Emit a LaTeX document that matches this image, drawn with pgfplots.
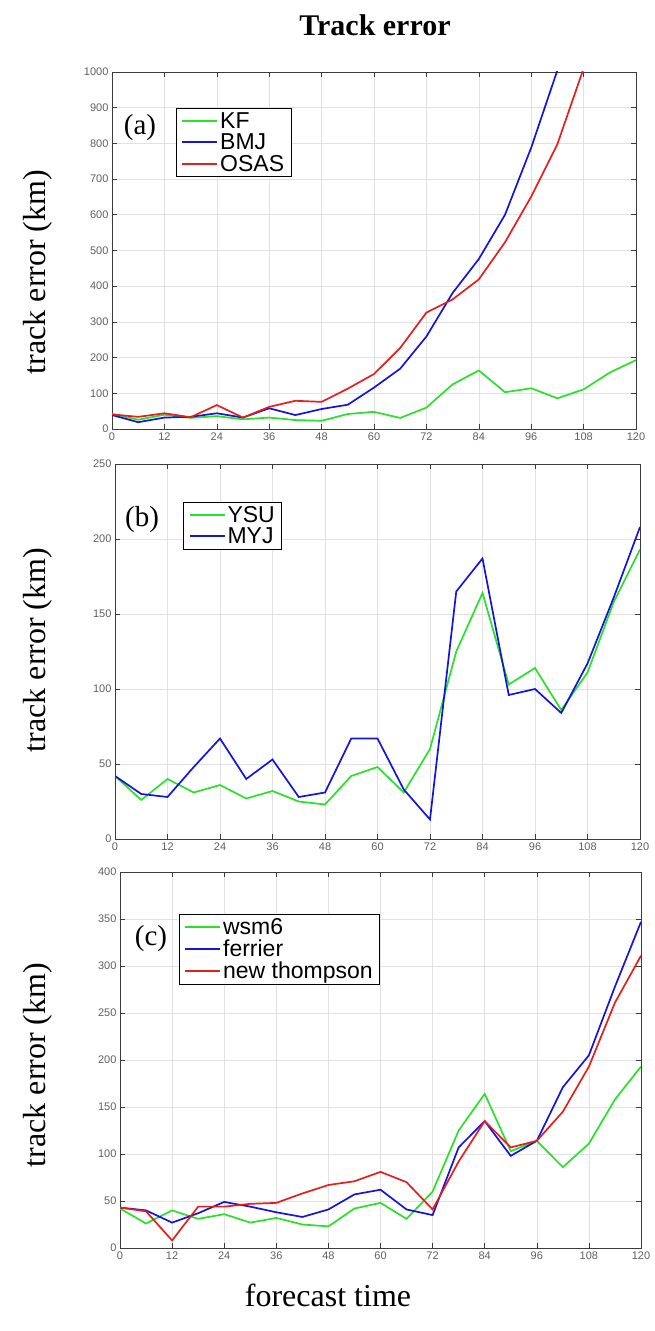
\documentclass[border=0pt]{standalone}
\usepackage{pgfplots}
\pgfplotsset{compat=1.18}
\usepackage{fontspec}
\setmainfont{Liberation Serif}
\newfontfamily\arial{Liberation Sans}
\definecolor{mgreen}{RGB}{40,225,40}
\definecolor{mblue}{RGB}{20,20,220}
\definecolor{mred}{RGB}{230,30,30}
\definecolor{axgray}{RGB}{60,60,60}
\definecolor{tickgray}{RGB}{95,95,95}
\definecolor{gridgray}{RGB}{225,225,225}
\pgfplotsset{
 legend image code/.code={\draw[#1] (0pt,0pt) -- (35pt,0pt);},
 mstyle/.style={
  scale only axis, xmin=0, xmax=120, xtick={0,12,...,120}, ymin=0,
  grid=major, major grid style={gridgray, line width=0.6pt},
  axis line style={axgray, line width=0.8pt},
  tick style={axgray, line width=0.6pt}, major tick length=5pt,
  ticklabel style={font=\arial\fontsize{11}{13}\selectfont, text=tickgray},
  /pgf/number format/assume math mode=true, /pgf/number format/1000 sep={},
  legend cell align=left,
  legend style={draw=black, line width=0.7pt, fill=white, font=\arial\fontsize{23}{24}\selectfont, inner xsep=5pt, inner ysep=2pt, row sep=0pt, anchor=north west},
  legend image post style={line width=1.9pt},
  every axis plot/.append style={line width=1.7pt},
 }
}
\begin{document}
\begin{tikzpicture}
\useasboundingbox (0pt,0pt) rectangle (654pt,1331pt);
% (a)
\begin{axis}[mstyle, at={(112pt,902pt)}, anchor=south west, width=524pt, height=357pt,
  ymax=1000, ytick={0,100,...,1000},
  legend style={at={(0.122,0.899)}}]
\addplot[mgreen] coordinates {(0,42)(6,26)(12,40)(18,31)(24,36)(30,27)(36,32)(42,25)(48,23)(54,42)(60,48)(66,31)(72,60)(78,125)(84,164)(90,103)(96,114)(102,86)(108,111)(114,158)(120,193)};
\addlegendentry{KF}
\addplot[mblue] coordinates {(0,39)(6,19)(12,32)(18,34)(24,44)(30,32)(36,58)(42,39)(48,56)(54,68)(60,116)(66,169)(72,259)(78,381)(84,476)(90,600)(96,788)(102,1005)(108,1250)};
\addlegendentry{BMJ}
\addplot[mred] coordinates {(0,41)(6,34)(12,44)(18,33)(24,67)(30,32)(36,62)(42,79)(48,76)(54,113)(60,154)(66,227)(72,326)(78,363)(84,419)(90,523)(96,651)(102,798)(108,1010)(114,1250)};
\addlegendentry{OSAS}
\end{axis}
% (b)
\begin{axis}[mstyle, at={(115pt,492pt)}, anchor=south west, width=525pt, height=375pt,
  ymax=250, ytick={0,50,...,250},
  legend style={at={(0.130,0.899)}}]
\addplot[mgreen] coordinates {(0,42)(6,26)(12,40)(18,31)(24,36)(30,27)(36,32)(42,25)(48,23)(54,42)(60,48)(66,31)(72,60)(78,125)(84,164)(90,103)(96,114)(102,86)(108,111)(114,158)(120,193)};
\addlegendentry{YSU}
\addplot[mblue] coordinates {(0,42)(6,30)(12,28)(18,48)(24,67)(30,40)(36,53)(42,28)(48,31)(54,67)(60,67)(66,33)(72,13)(78,165)(84,187)(90,96)(96,100)(102,84)(108,117)(114,161)(120,208)};
\addlegendentry{MYJ}
\end{axis}
% (c)
\begin{axis}[mstyle, at={(120pt,83pt)}, anchor=south west, width=521pt, height=376pt,
  ymax=400, ytick={0,50,...,400},
  legend style={at={(0.113,0.888)}}]
\addplot[mgreen] coordinates {(0,42)(6,26)(12,40)(18,31)(24,36)(30,27)(36,32)(42,25)(48,23)(54,42)(60,48)(66,31)(72,60)(78,125)(84,164)(90,103)(96,114)(102,86)(108,111)(114,158)(120,193)};
\addlegendentry{wsm6}
\addplot[mblue] coordinates {(0,43)(6,40)(12,27)(18,37)(24,49)(30,44)(36,38)(42,33)(48,41)(54,57)(60,62)(66,41)(72,35)(78,107)(84,135)(90,98)(96,114)(102,171)(108,205)(114,278)(120,347)};
\addlegendentry{ferrier}
\addplot[mred] coordinates {(0,43)(6,39)(12,8)(18,44)(24,44)(30,47)(36,48)(42,58)(48,67)(54,71)(60,81)(66,70)(72,41)(78,92)(84,135)(90,107)(96,114)(102,145)(108,193)(114,261)(120,311)};
\addlegendentry{new thompson}
\end{axis}
% texts
\node[font=\bfseries\fontsize{30}{34}\selectfont] at (375pt,1306pt) {Track error};
\node[font=\fontsize{29}{32}\selectfont] at (140pt,1203pt) {(a)};
\node[font=\fontsize{29}{32}\selectfont] at (142pt,811pt) {(b)};
\node[font=\fontsize{29}{32}\selectfont] at (151pt,392pt) {(c)};
\node[rotate=90, font=\fontsize{32}{36}\selectfont] at (38pt,1059pt) {track error (km)};
\node[rotate=90, font=\fontsize{32}{36}\selectfont] at (38pt,681pt) {track error (km)};
\node[rotate=90, font=\fontsize{32}{36}\selectfont] at (38pt,266pt) {track error (km)};
\node[font=\fontsize{32}{36}\selectfont] at (328pt,36pt) {forecast time};
\end{tikzpicture}
\end{document}
